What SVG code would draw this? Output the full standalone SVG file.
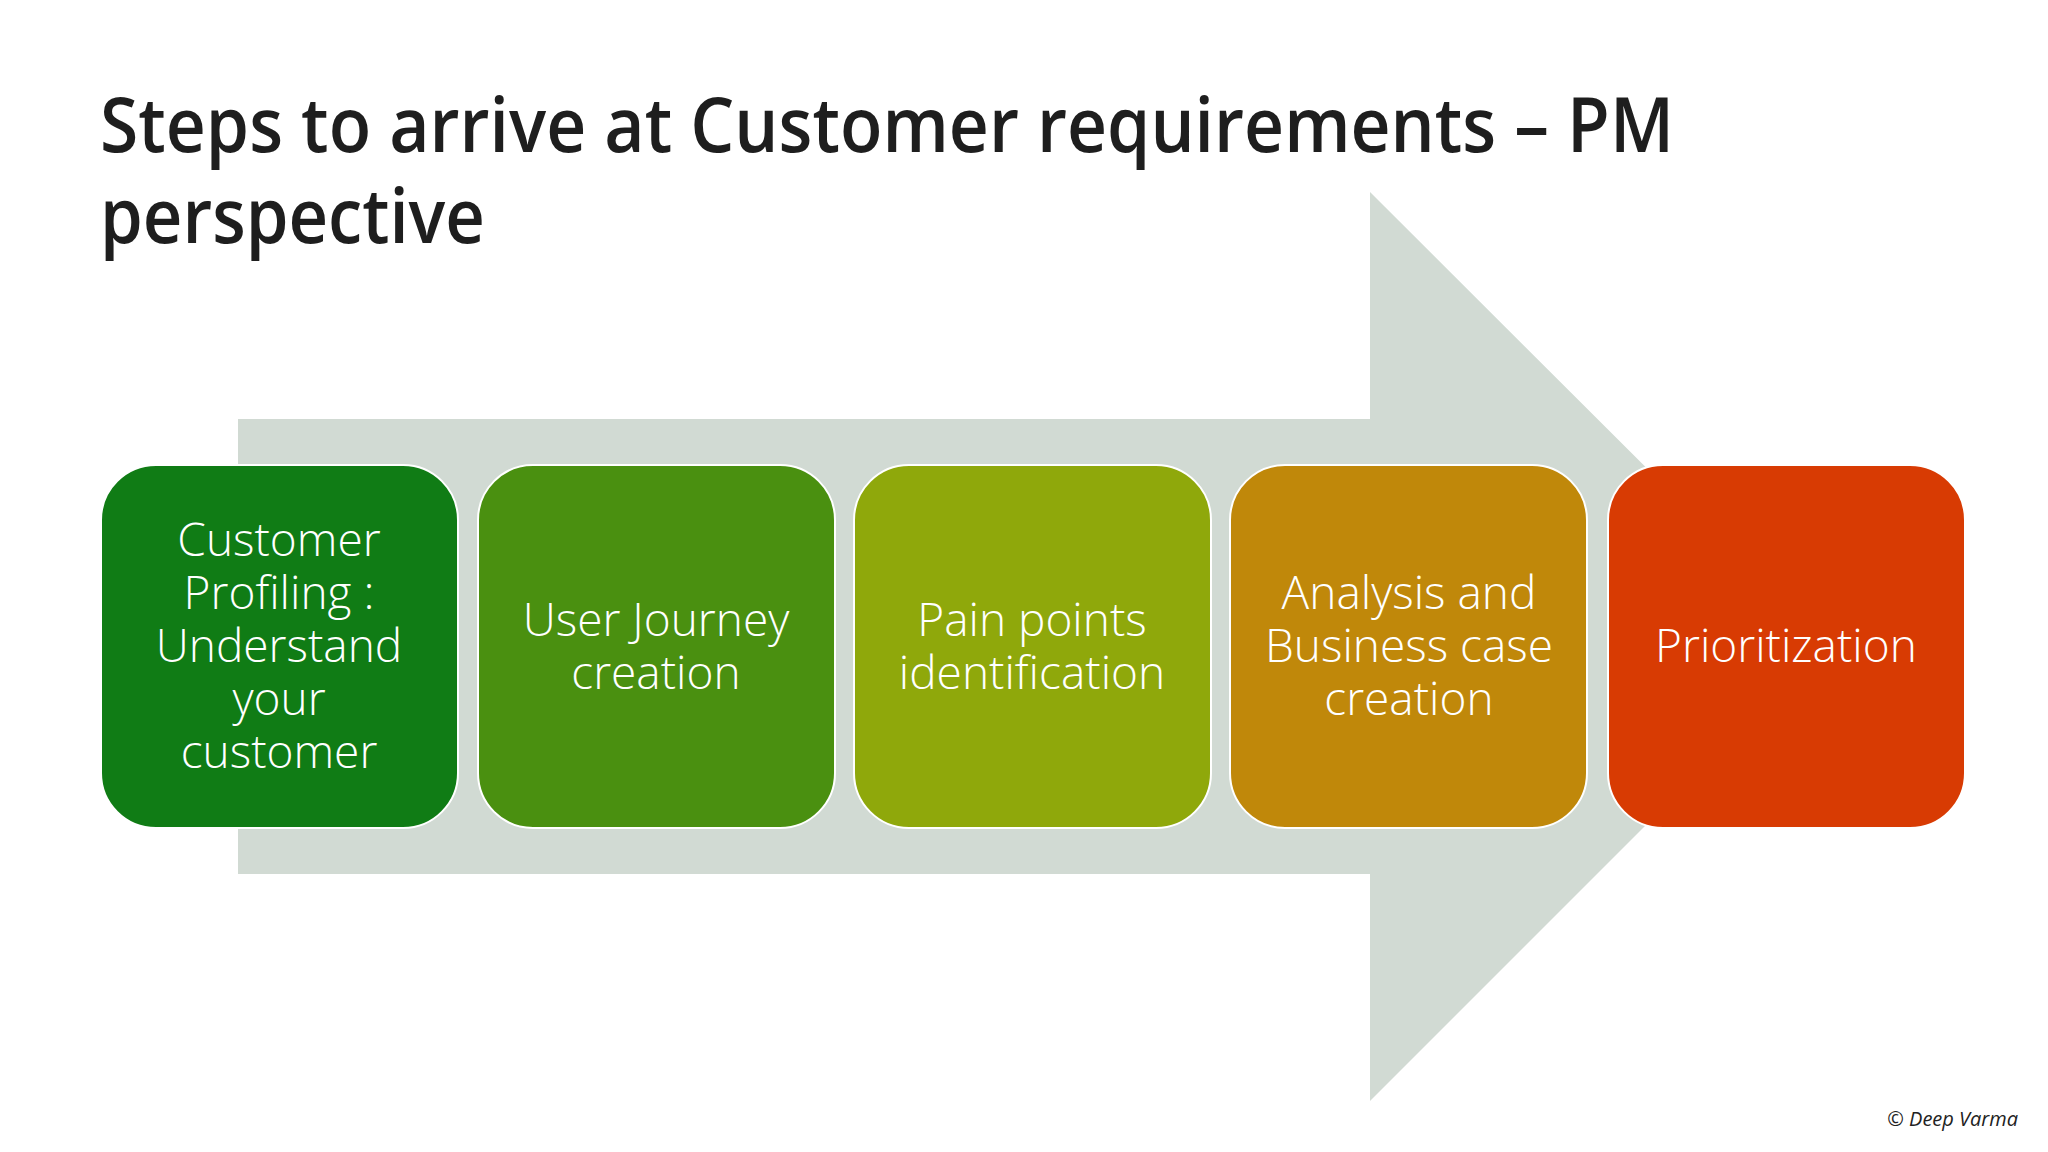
<svg xmlns="http://www.w3.org/2000/svg" width="2048" height="1152" viewBox="0 0 2048 1152">
<style>
.t{font-family:"Open Sans","Noto Sans",sans-serif;font-weight:600;font-size:76px;fill:#1e1e1e}
.b{stroke:#fff;stroke-width:2}
.l{font-family:"Open Sans","Noto Sans",sans-serif;font-weight:300;font-size:46px;fill:#fff;text-anchor:middle}
</style>
<rect width="2048" height="1152" fill="#fff"/>
<text class="t" x="100" y="152" textLength="1574" lengthAdjust="spacingAndGlyphs">Steps to arrive at Customer requirements – PM</text>
<text class="t" x="100" y="243" textLength="385" lengthAdjust="spacingAndGlyphs">perspective</text>
<g id="connectors">
<polygon points="238,419 1370,419 1370,192 1825,646 1370,1101 1370,874 238,874" fill="#D1DAD3"/>
</g>
<g id="n1"><rect class="b" x="101" y="465" width="357" height="363" rx="55" fill="#107C15"/>
<text class="l"><tspan x="279" y="556">Customer</tspan><tspan x="279" y="609">Profiling :</tspan><tspan x="279" y="662">Understand</tspan><tspan x="279" y="715">your</tspan><tspan x="279" y="768">customer</tspan></text></g>
<g id="n2"><rect class="b" x="478" y="465" width="357" height="363" rx="55" fill="#4A9010"/>
<text class="l"><tspan x="656" y="636">User Journey</tspan><tspan x="656" y="689">creation</tspan></text></g>
<g id="n3"><rect class="b" x="854" y="465" width="357" height="363" rx="55" fill="#8FA80B"/>
<text class="l"><tspan x="1032" y="636">Pain points</tspan><tspan x="1032" y="689">identification</tspan></text></g>
<g id="n4"><rect class="b" x="1230" y="465" width="357" height="363" rx="55" fill="#C0880A"/>
<text class="l"><tspan x="1409" y="609">Analysis and</tspan><tspan x="1409" y="662">Business case</tspan><tspan x="1409" y="715">creation</tspan></text></g>
<g id="n5"><rect class="b" x="1608" y="465" width="357" height="363" rx="55" fill="#D83B03"/>
<text class="l"><tspan x="1786" y="662">Prioritization</tspan></text></g>
<text x="2018" y="1126" font-family="'Open Sans','Noto Sans',sans-serif" font-style="italic" font-size="20" fill="#222" text-anchor="end">© Deep Varma</text>
</svg>
